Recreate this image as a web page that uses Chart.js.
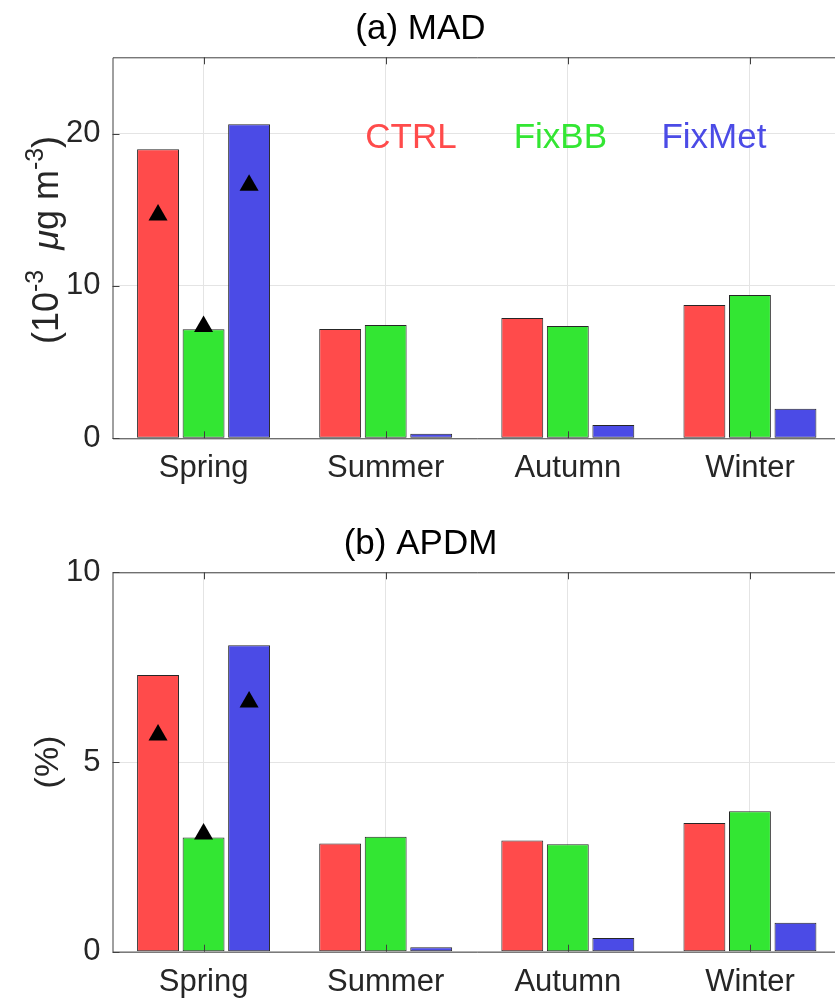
<!DOCTYPE html>
<html>
<head>
<meta charset="utf-8">
<script src="https://cdn.jsdelivr.net/npm/chart.js@4/dist/chart.umd.min.js"></script>
<style>
  html, body { margin: 0; padding: 0; background: #fff; overflow: hidden; }
  #wrap { width: 845px; }
  canvas { display: block; }
</style>
</head>
<body>
<div id="wrap">
  <canvas id="madChart" width="845" height="510"></canvas>
  <canvas id="apdmChart" width="845" height="491"></canvas>
</div>
<script>
// data
const seasons = ['Spring', 'Summer', 'Autumn', 'Winter'];
const seriesNames = ['CTRL', 'FixBB', 'FixMet'];

const madCtrl = [18.97, 7.17, 7.9, 8.75];
const madFixBB = [7.15, 7.43, 7.37, 9.4];
const madFixMet = [20.61, 0.3, 0.87, 1.94];
const madSpringMarks = [14.66, 7.33, 16.6];
const madTicks = [0, 10, 20];

const apdmCtrl = [7.29, 2.85, 2.93, 3.39];
const apdmFixBB = [3.01, 3.03, 2.83, 3.70];
const apdmFixMet = [8.08, 0.12, 0.36, 0.76];
const apdmSpringMarks = [5.71, 3.1, 6.58];
const apdmTicks = [0, 5, 10];

// bar offset of each series inside a season group (x axis runs 0.5..4.5)
const groupOffset = [-0.25, 0, 0.25];

const colors = ['#FF4B4B', '#33E633', '#4B4BE6'];
const FONT = 'Liberation Sans, Arial, Helvetica, sans-serif';
const gridColor = '#e4e4e4';
const axisColor = '#404040';

// axes box with inward tick marks, like matlab
const boxPlugin = {
  id: 'box',
  afterDatasetsDraw(chart) {
    const { ctx, chartArea: a, scales } = chart;
    ctx.save();
    ctx.strokeStyle = axisColor;
    ctx.lineWidth = 1;
    ctx.beginPath();
    ctx.moveTo(a.right + 0.5, a.top + 0.5);
    ctx.lineTo(a.left + 0.5, a.top + 0.5);
    ctx.lineTo(a.left + 0.5, a.bottom + 0.5);
    ctx.lineTo(a.right + 0.5, a.bottom + 0.5);
    ctx.stroke();
    const tl = 7;
    ctx.beginPath();
    seasons.forEach((s, i) => {
      const x = Math.round(scales.x.getPixelForValue(i)) + 0.5;
      ctx.moveTo(x, a.top); ctx.lineTo(x, a.top + tl);
      ctx.moveTo(x, a.bottom); ctx.lineTo(x, a.bottom - tl);
    });
    scales.y.ticks.forEach(t => {
      const y = Math.round(scales.y.getPixelForValue(t.value)) + 0.5;
      ctx.moveTo(a.left, y); ctx.lineTo(a.left + tl, y);
    });
    ctx.stroke();
    ctx.restore();
  }
};

// coloured series names inside the top panel
const namesPlugin = {
  id: 'names',
  afterDatasetsDraw(chart, args, opts) {
    if (!opts.show) return;
    const { ctx, scales } = chart;
    const xs = [2.139, 2.959, 3.802];
    ctx.save();
    ctx.font = '35px ' + FONT;
    ctx.textAlign = 'center';
    ctx.textBaseline = 'alphabetic';
    seriesNames.forEach((n, i) => {
      ctx.fillStyle = colors[i];
      ctx.fillText(n, scales.x2.getPixelForValue(xs[i]), scales.y.getPixelForValue(19.08));
    });
    ctx.restore();
  }
};

// rotated y label with superscripts
const yLabelPlugin = {
  id: 'ylab',
  afterDraw(chart, args, opts) {
    const { ctx, chartArea: a } = chart;
    const main = opts.size, sup = Math.round(opts.size * 0.7);
    const parts = opts.parts;
    ctx.save();
    let total = 0;
    parts.forEach(p => {
      ctx.font = (p.italic ? 'italic ' : '') + (p.sup ? sup : main) + 'px ' + FONT;
      p.w = ctx.measureText(p.t).width;
      total += p.w;
    });
    ctx.translate(58, opts.center != null ? opts.center : (a.top + a.bottom) / 2);
    ctx.rotate(-Math.PI / 2);
    ctx.fillStyle = '#262626';
    ctx.textAlign = 'left';
    ctx.textBaseline = 'alphabetic';
    let x = -total / 2;
    parts.forEach(p => {
      ctx.font = (p.italic ? 'italic ' : '') + (p.sup ? sup : main) + 'px ' + FONT;
      ctx.fillText(p.t, x, p.sup ? -main * 0.42 : 0);
      x += p.w;
    });
    ctx.restore();
  }
};

function makeChart(id, opt) {
  const datasets = opt.series.map((vals, k) => ({
    type: 'bar',
    label: seriesNames[k],
    xAxisID: 'x2',
    data: vals.map((v, i) => ({ x: i + 1 + groupOffset[k], y: v })),
    backgroundColor: colors[k],
    borderColor: '#262626',
    borderWidth: 1,
    borderSkipped: false,
    grouped: false,
    categoryPercentage: 1,
    barPercentage: 0.92,
    order: 1
  }));
  datasets.push({
    type: 'line',
    label: 'Spring marks',
    xAxisID: 'x2',
    data: opt.marks.map((v, k) => ({ x: 1 + groupOffset[k], y: v })),
    showLine: false,
    pointStyle: 'triangle',
    pointRadius: 11,
    pointBackgroundColor: '#000',
    pointBorderColor: '#000',
    pointBorderWidth: 0,
    order: 0
  });

  return new Chart(document.getElementById(id), {
    type: 'bar',
    data: { labels: seasons, datasets: datasets },
    options: {
      responsive: false,
      animation: false,
      layout: { autoPadding: false, padding: { left: 0, right: 4, top: 0, bottom: 0 } },
      plugins: {
        legend: { display: false },
        tooltip: { enabled: false },
        title: {
          display: true,
          text: opt.title,
          color: '#000',
          font: { family: FONT, size: 35, weight: 'normal' },
          padding: opt.titlePad
        },
        names: { show: opt.showNames },
        ylab: { parts: opt.ylabel, center: opt.ylabelCenter, size: opt.ylabelSize }
      },
      scales: {
        x: {
          type: 'category',
          offset: true,
          grid: { display: true, offset: false, color: gridColor, drawTicks: false },
          border: { display: false },
          ticks: { color: '#262626', font: { family: FONT, size: 31 }, padding: 12, maxRotation: 0 },
          afterFit: s => { s.height = opt.xHeight; }
        },
        x2: { type: 'linear', min: 0.5, max: 4.5, display: false, offset: false },
        y: {
          min: 0,
          max: opt.ymax,
          afterBuildTicks: s => { s.ticks = opt.ticks.map(v => ({ value: v })); },
          grid: { color: gridColor, drawTicks: false },
          border: { display: false },
          ticks: { color: '#262626', font: { family: FONT, size: 31 }, padding: 12 },
          afterFit: s => { s.width = 112.5; }
        }
      }
    },
    plugins: [boxPlugin, namesPlugin, yLabelPlugin]
  });
}

makeChart('madChart', {
  title: '(a) MAD',
  series: [madCtrl, madFixBB, madFixMet],
  marks: madSpringMarks,
  ticks: madTicks,
  ymax: 25,
  titlePad: { top: 8, bottom: 7.3 },
  xHeight: 71.7,
  showNames: true,
  ylabelCenter: 240,
  ylabelSize: 36,
  ylabel: [
    { t: '(10' }, { t: '-3', sup: true }, { t: '  ' }, { t: 'μ', italic: true },
    { t: 'g m' }, { t: '-3', sup: true }, { t: ')' }
  ]
});

makeChart('apdmChart', {
  title: '(b) APDM',
  series: [apdmCtrl, apdmFixBB, apdmFixMet],
  marks: apdmSpringMarks,
  ticks: apdmTicks,
  ymax: 10,
  titlePad: { top: 13, bottom: 7.3 },
  xHeight: 49.3,
  showNames: false,
  ylabelSize: 34,
  ylabel: [{ t: '(%)' }]
});
</script>
</body>
</html>
